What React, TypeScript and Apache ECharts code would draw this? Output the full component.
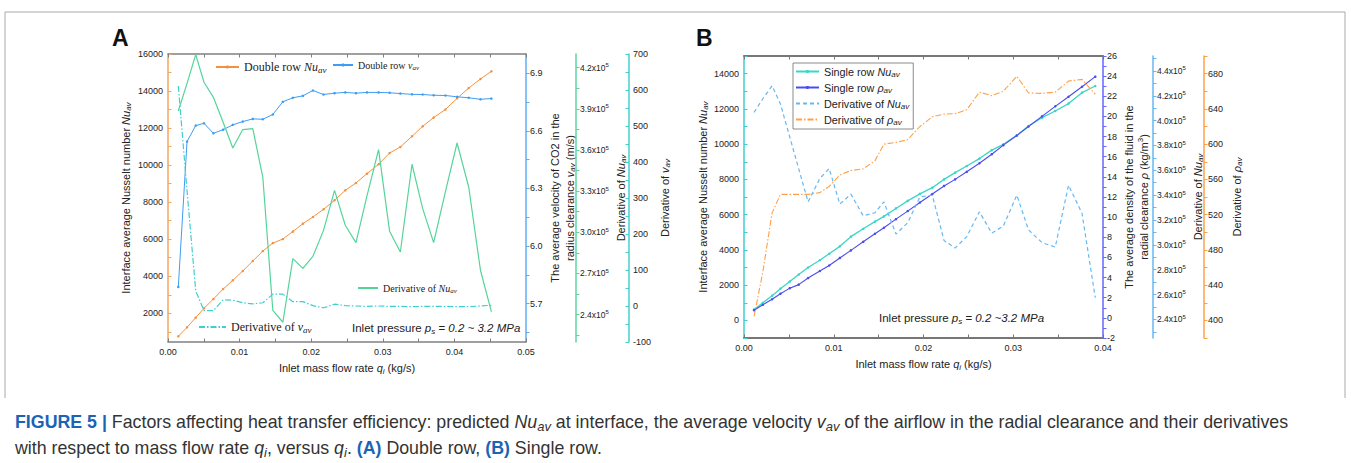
import React, { useEffect, useRef } from 'react';
import * as echarts from 'echarts';

// ---------- Panel A (double row) ----------
const xA = [0.00144, 0.00266, 0.00387, 0.00503, 0.00634, 0.0077, 0.00905, 0.01044, 0.01184, 0.01324, 0.01464, 0.01604, 0.01744, 0.01884, 0.02024, 0.02172, 0.02326, 0.02476, 0.02625, 0.02779, 0.02941, 0.03095, 0.03245, 0.03408, 0.03557, 0.0371, 0.03874, 0.04037, 0.042, 0.04364, 0.04517];
const nuA = [756, 1242, 1765, 2268, 2770, 3310, 3780, 4282, 4822, 5360, 5790, 6010, 6410, 6840, 7200, 7614, 8100, 8640, 9035, 9540, 10044, 10654, 10978, 11556, 12096, 12565, 12998, 13608, 14164, 14650, 15066];
const vA = [5.787, 6.544, 6.627, 6.639, 6.587, 6.606, 6.631, 6.648, 6.662, 6.66, 6.685, 6.751, 6.772, 6.782, 6.81, 6.789, 6.796, 6.8, 6.796, 6.8, 6.8, 6.798, 6.794, 6.79, 6.789, 6.785, 6.784, 6.777, 6.772, 6.764, 6.768];
const dNuA = [388400, 408600, 429600, 409400, 398400, 380200, 361500, 374900, 375600, 340300, 243100, 234400, 280800, 273700, 282500, 301400, 330600, 305100, 292500, 326500, 360300, 300700, 285600, 349600, 317300, 292500, 329400, 365100, 333000, 272300, 241900];
const dvA = [611, 320, 42, -13, -13, 17, 16, 9, 6, 9, 33, 33, 12, 12, 1, -5, 5, 1, 0, -1, 0, -1, -1, -2, -1, -1, -1, -2, -2, 0, 2];

// ---------- Panel B (single row) ----------
const xB = [0.00112, 0.0021, 0.00313, 0.00406, 0.0051, 0.0061, 0.00714, 0.00845, 0.00949, 0.01068, 0.01191, 0.01328, 0.01459, 0.01559, 0.01693, 0.01824, 0.0196, 0.02098, 0.02229, 0.02352, 0.02482, 0.02623, 0.02761, 0.0289, 0.0304, 0.0317, 0.0332, 0.03468, 0.03616, 0.03766, 0.03914];
const nuB = [620, 1000, 1400, 1800, 2200, 2600, 3000, 3410, 3780, 4200, 4750, 5200, 5600, 5900, 6350, 6780, 7180, 7530, 8000, 8380, 8760, 9180, 9660, 9990, 10500, 11030, 11500, 11880, 12300, 12920, 13300];
const rhoB = [0.76, 1.3, 1.85, 2.4, 2.95, 3.3, 3.95, 4.65, 5.2, 5.95, 6.7, 7.55, 8.35, 8.95, 9.8, 10.6, 11.45, 12.3, 13.1, 13.75, 14.5, 15.35, 16.25, 17.15, 18.1, 19.0, 20.0, 21.0, 21.95, 22.95, 23.95];
const dNuB = [406600, 417600, 428000, 413400, 386800, 361100, 334600, 353400, 361400, 332800, 340800, 323400, 325800, 334600, 308600, 317800, 338600, 340000, 303400, 297400, 306600, 326600, 309400, 315200, 340000, 312000, 301800, 298200, 348000, 325400, 257400];
const drhoB = [404.5, 455, 522, 543, 543, 543, 543, 545, 552, 565, 570, 572, 581, 600, 602, 605, 620, 631, 634, 634.5, 639, 659, 655, 660, 677, 658, 657.6, 659, 671.6, 673.5, 656.5];

// ---------- tick labels ----------
const xLabelsA = [0, 0.01, 0.02, 0.03, 0.04, 0.05];
const xLabelsB = [0, 0.01, 0.02, 0.03, 0.04];
const nuLabelsA = [2000, 4000, 6000, 8000, 10000, 12000, 14000, 16000];
const vLabelsA = [5.7, 6.0, 6.3, 6.6, 6.9];
const dNuLabelsA = [240000, 270000, 300000, 330000, 360000, 390000, 420000];
const dvLabelsA = [-100, 0, 100, 200, 300, 400, 500, 600, 700];
const nuLabelsB = [0, 2000, 4000, 6000, 8000, 10000, 12000, 14000];
const rhoLabelsB = [-2, 0, 2, 4, 6, 8, 10, 12, 14, 16, 18, 20, 22, 24, 26];
const dNuLabelsB = [240000, 260000, 280000, 300000, 320000, 340000, 360000, 380000, 400000, 420000, 440000];
const drhoLabelsB = [400, 440, 480, 520, 560, 600, 640, 680];

const SANS = '"Liberation Sans", Arial, sans-serif';
const SERIF = '"Liberation Serif", "Times New Roman", serif';
const TXT = '#222';

function steps(a: number, b: number, s: number) {
  const out: number[] = [];
  const n = Math.round((b - a) / s);
  for (let i = 0; i <= n; i++) out.push(+(a + i * s).toFixed(6));
  return out;
}
function zip(x: number[], y: number[]) {
  return x.map((v, i) => [v, y[i]]);
}
function rich(fs: number, family: string, color = TXT) {
  return {
    i: { fontStyle: 'italic', fontSize: fs, fontFamily: family, color, fill: color },
    s: { fontStyle: 'italic', fontSize: Math.round(fs * 0.72), fontFamily: family, color, fill: color, padding: [Math.round(fs * 0.5), 0, 0, 0] },
    p: { fontSize: Math.round(fs * 0.7), fontFamily: family, color, fill: color, padding: [0, 0, Math.round(fs * 0.5), 0] },
    b: { fontWeight: 'bold', fontSize: fs, fontFamily: family, color: '#1B63B5', fill: '#1B63B5' },
  };
}
const plainFmt = (v: number) => String(v);
const sciFmt = (v: number) => `{b|${(v / 1e5).toFixed(1)}x10}{p|5}`;
const sciRich = {
  b: { fontSize: 8.5, fontFamily: SANS, color: TXT },
  p: { fontSize: 6, fontFamily: SANS, color: TXT, padding: [0, 0, 5, 0] },
};

function xAxis(grid: number, max: number, labels: number[], color: string, width: number, top = false) {
  return {
    type: 'value', gridIndex: grid, min: 0, max, position: top ? 'top' : 'bottom',
    axisLine: { show: true, onZero: false, lineStyle: { color, width } },
    axisTick: { show: true, inside: true, length: 3.5, customValues: steps(0, max, 0.005), lineStyle: { color, width: 1 } },
    axisLabel: top ? { show: false } : {
      customValues: labels, formatter: (v: number) => v.toFixed(2), fontSize: 9, color: TXT, fontFamily: SANS, margin: 5,
    },
    splitLine: { show: false },
    name: top ? '' : 'Inlet mass flow rate {i|q}{s|i} (kg/s)',
    nameLocation: 'middle', nameGap: 19,
    nameTextStyle: { fontSize: 11, fontFamily: SANS, color: TXT, rich: rich(11, SANS) },
  };
}

function yAxis(o: any) {
  return {
    type: 'value', gridIndex: o.grid, min: o.min, max: o.max, position: o.pos, offset: o.offset || 0,
    axisLine: { show: true, onZero: false, lineStyle: { color: o.color, width: 1.5 } },
    axisTick: { show: true, inside: !!o.inside, length: 3.5, customValues: o.ticks, lineStyle: { color: o.color, width: 1 } },
    axisLabel: {
      customValues: o.labels, formatter: o.fmt || plainFmt, fontSize: 9, color: TXT, fontFamily: SANS, margin: o.margin ?? 4,
      rich: o.sci ? sciRich : undefined,
    },
    splitLine: { show: false },
    name: o.name, nameLocation: 'middle', nameGap: o.gap, nameRotate: 90,
    nameTextStyle: { fontSize: 11, fontFamily: SANS, color: TXT, rich: rich(11, SANS), lineHeight: 15 },
  };
}

const names: Record<string, string> = {
  A_Nu: 'Double row {i|Nu}{s|av}',
  A_v: 'Double row {i|v}{s|av}',
  A_dNu: 'Derivative of {i|Nu}{s|av}',
  A_dv: 'Derivative of {i|v}{s|av}',
  B_Nu: 'Single row {i|Nu}{s|av}',
  B_rho: 'Single row {i|ρ}{s|av}',
  B_dNu: 'Derivative of {i|Nu}{s|av}',
  B_drho: 'Derivative of {i|ρ}{s|av}',
};
const fmtName = (n: string) => names[n] || n;

const C = {
  orange: '#F5913E', orangeAx: '#F7A55E',
  blue: '#3E9DF2', blueAx: '#5AAFF5',
  green: '#55D49A', greenAx: '#5ED6A0',
  cyan: '#3ECFCF', tealAx: '#45D0C8',
  bTeal: '#3CD6C6', bTealAx: '#3CCFCF',
  bBlue: '#4A4CF0', bBlueAx: '#6666FF',
  bLight: '#66B8F2', bOrange: '#FFA047',
  frame: '#808080',
};
const DASHDOT = [6, 2, 1.5, 2];

function legendOne(name: string, left: number, top: number, w: number, fs: number, hideSym = false) {
  return {
    data: [hideSym ? { name, itemStyle: { opacity: 0 } } : name],
    left, top, padding: 0, itemWidth: w, itemHeight: 4, selectedMode: false,
    formatter: fmtName,
    textStyle: { fontFamily: SERIF, fontSize: fs, color: TXT, rich: rich(fs, SERIF) },
  };
}

export default function App() {
  const ref = useRef<HTMLDivElement>(null);
  useEffect(() => {
    if (!ref.current) return;
    const chart = echarts.init(ref.current, undefined, { renderer: 'svg' });
    const option: any = {
      animation: false,
      backgroundColor: '#fff',
      grid: [
        { left: 168, top: 54, width: 358, height: 288 },
        { left: 744, top: 56, width: 359, height: 282 },
      ],
      xAxis: [
        xAxis(0, 0.05, xLabelsA, C.frame, 1.5),
        xAxis(0, 0.05, xLabelsA, C.frame, 1.5, true),
        xAxis(1, 0.04, xLabelsB, '#777', 2),
        xAxis(1, 0.04, xLabelsB, '#777', 2, true),
      ],
      yAxis: [
        yAxis({ grid: 0, min: 450, max: 16000, pos: 'left', color: C.orangeAx, inside: true, ticks: steps(1000, 16000, 1000), labels: nuLabelsA, margin: 5, name: 'Interface average Nusselt number {i|Nu}{s|av}', gap: 35 }),
        yAxis({ grid: 0, min: 5.5, max: 7.0, pos: 'right', color: C.blueAx, inside: false, ticks: steps(5.55, 6.9, 0.15), labels: vLabelsA, fmt: (v: number) => v.toFixed(1), name: 'The average velocity of CO2 in the\nradius clearance {i|v}{s|av} (m/s)', gap: 21 }),
        yAxis({ grid: 0, min: 220000, max: 430000, pos: 'right', offset: 50, color: C.greenAx, inside: false, ticks: steps(225000, 420000, 15000), labels: dNuLabelsA, fmt: sciFmt, sci: true, name: 'Derivative of {i|Nu}{s|av}', gap: 37 }),
        yAxis({ grid: 0, min: -100, max: 700, pos: 'right', offset: 103, color: C.tealAx, inside: true, ticks: steps(-100, 700, 50), labels: dvLabelsA, name: 'Derivative of {i|v}{s|av}', gap: 28 }),
        yAxis({ grid: 1, min: -1000, max: 15000, pos: 'left', color: C.bTealAx, inside: true, ticks: steps(-1000, 15000, 1000), labels: nuLabelsB, margin: 5, name: 'Interface average Nusselt number {i|Nu}{s|av}', gap: 31 }),
        yAxis({ grid: 1, min: -2, max: 26, pos: 'right', color: C.bBlueAx, inside: false, ticks: steps(-2, 26, 1), labels: rhoLabelsB, name: 'The average density of the fluid in the\nradial clearance {i|ρ} (kg/m{p|3})', gap: 18 }),
        yAxis({ grid: 1, min: 225000, max: 452000, pos: 'right', offset: 50, color: C.bLight, inside: false, ticks: steps(230000, 450000, 10000), labels: dNuLabelsB, fmt: sciFmt, sci: true, name: 'Derivative of {i|Nu}{s|av}', gap: 37 }),
        yAxis({ grid: 1, min: 380, max: 700, pos: 'right', offset: 101, color: C.bOrange, inside: false, ticks: steps(380, 700, 20), labels: drhoLabelsB, name: 'Derivative of {i|ρ}{s|av}', gap: 25 }),
      ],
      legend: [
        legendOne('A_Nu', 215, 61, 23, 12),
        legendOne('A_v', 332, 60, 20, 10),
        legendOne('A_dNu', 357, 283, 20, 10, true),
        legendOne('A_dv', 198, 321, 27, 12, true),
        {
          data: ['B_Nu', 'B_rho', { name: 'B_dNu', itemStyle: { opacity: 0 } }, { name: 'B_drho', itemStyle: { opacity: 0 } }],
          orient: 'vertical', left: 793, top: 63, padding: [3, 4, 3, 2], itemWidth: 23, itemHeight: 4, itemGap: 4,
          borderColor: '#8a8a8a', borderWidth: 1, selectedMode: false, formatter: fmtName,
          textStyle: { fontFamily: SANS, fontSize: 10.8, color: TXT, rich: rich(10.8, SANS) },
        },
      ],
      series: [
        { name: 'A_Nu', type: 'line', xAxisIndex: 0, yAxisIndex: 0, data: zip(xA, nuA), symbol: 'circle', symbolSize: 2.5, color: C.orange, lineStyle: { width: 1, color: C.orange } },
        { name: 'A_v', type: 'line', xAxisIndex: 0, yAxisIndex: 1, data: zip(xA, vA), symbol: 'circle', symbolSize: 2.5, color: C.blue, lineStyle: { width: 1, color: C.blue } },
        { name: 'A_dNu', type: 'line', xAxisIndex: 0, yAxisIndex: 2, data: zip(xA, dNuA), symbol: 'none', color: C.green, lineStyle: { width: 1.2, color: C.green } },
        { name: 'A_dv', type: 'line', xAxisIndex: 0, yAxisIndex: 3, data: zip(xA, dvA), symbol: 'none', color: C.cyan, lineStyle: { width: 1.2, color: C.cyan, type: DASHDOT } },
        { name: 'B_Nu', type: 'line', xAxisIndex: 2, yAxisIndex: 4, data: zip(xB, nuB), symbol: 'circle', symbolSize: 2.5, color: C.bTeal, lineStyle: { width: 1.3, color: C.bTeal } },
        { name: 'B_rho', type: 'line', xAxisIndex: 2, yAxisIndex: 5, data: zip(xB, rhoB), symbol: 'circle', symbolSize: 2.5, color: C.bBlue, lineStyle: { width: 1.1, color: C.bBlue } },
        { name: 'B_dNu', type: 'line', xAxisIndex: 2, yAxisIndex: 6, data: zip(xB, dNuB), symbol: 'none', color: C.bLight, lineStyle: { width: 1.2, color: C.bLight, type: [4, 3] } },
        { name: 'B_drho', type: 'line', xAxisIndex: 2, yAxisIndex: 7, data: zip(xB, drhoB), symbol: 'none', color: C.bOrange, lineStyle: { width: 1.1, color: C.bOrange, type: DASHDOT } },
      ],
      graphic: [
        { type: 'polyline', shape: { points: [[5, 398], [5, 12], [1345, 12], [1345, 398]] }, style: { stroke: '#aaa', lineWidth: 1, fill: 'none' }, silent: true },
        { type: 'text', x: 112, y: 38, style: { text: 'A', font: `bold 23px ${SANS}`, fill: '#111', textVerticalAlign: 'middle' } },
        { type: 'text', x: 696, y: 38, style: { text: 'B', font: `bold 23px ${SANS}`, fill: '#111', textVerticalAlign: 'middle' } },
        { type: 'text', x: 352, y: 328, style: { text: 'Inlet pressure {i|p}{s|s} = {i|0.2 ~ 3.2 MPa}', font: `11.5px ${SANS}`, fill: TXT, textVerticalAlign: 'middle', rich: rich(11.5, SANS) } },
        { type: 'text', x: 879, y: 318, style: { text: 'Inlet pressure {i|p}{s|s} = {i|0.2 ~3.2 MPa}', font: `11.5px ${SANS}`, fill: TXT, textVerticalAlign: 'middle', rich: rich(11.5, SANS) } },
        { type: 'text', x: 15, y: 422, style: { text: '{b|FIGURE 5 |} Factors affecting heat transfer efficiency: predicted {i|Nu}{s|av} at interface, the average velocity {i|v}{s|av} of the airflow in the radial clearance and their derivatives', font: `17.8px ${SANS}`, fill: '#333', textVerticalAlign: 'middle', rich: rich(17.8, SANS, '#333') } },
        { type: 'text', x: 15, y: 448, style: { text: 'with respect to mass flow rate {i|q}{s|i}, versus {i|q}{s|i}. {b|(A)} Double row, {b|(B)} Single row.', font: `17.8px ${SANS}`, fill: '#333', textVerticalAlign: 'middle', rich: rich(17.8, SANS, '#333') } },
      ],
    };
    chart.setOption(option);
    return () => chart.dispose();
  }, []);
  return <div ref={ref} style={{ position: 'absolute', left: 0, top: 0, width: 1351, height: 463, background: '#fff' }} />;
}
